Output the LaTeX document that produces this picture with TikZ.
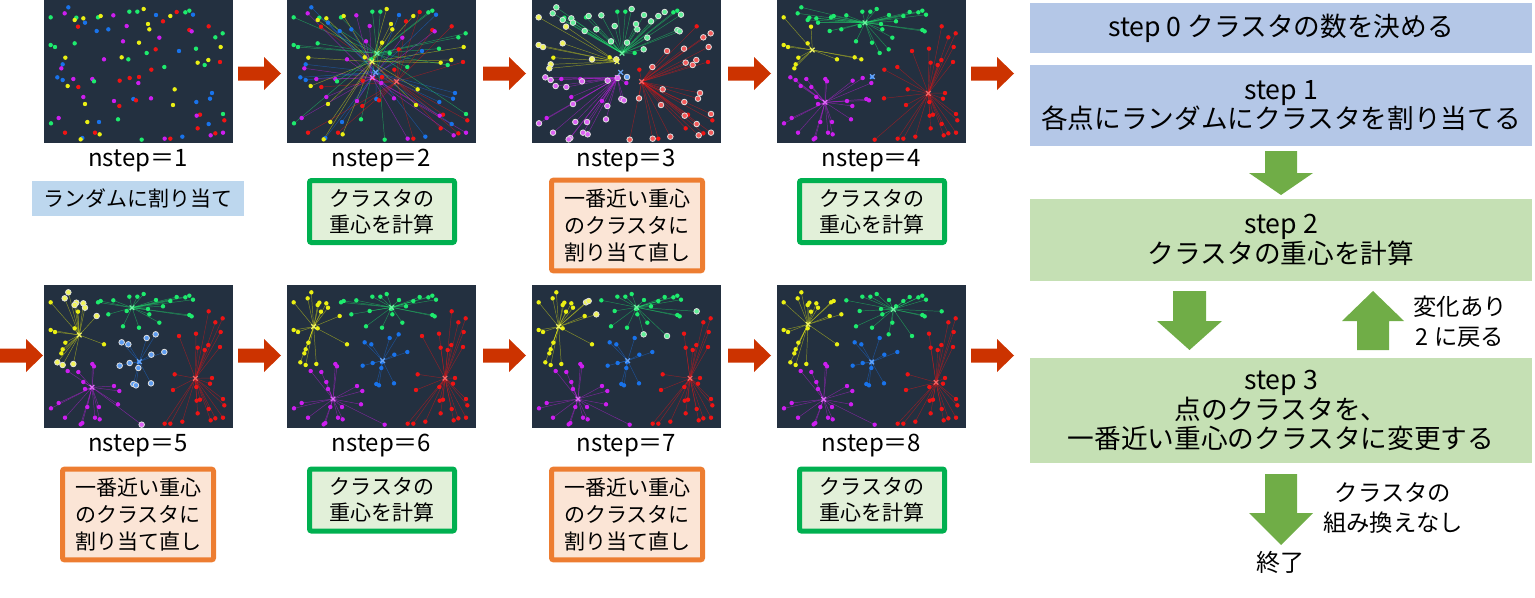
\documentclass[tikz,border=0pt]{standalone}
\usepackage{fontspec}
\setmainfont{Noto Sans CJK JP}
\definecolor{cG}{RGB}{30,235,110}
\definecolor{cY}{RGB}{235,240,20}
\definecolor{cB}{RGB}{25,115,235}
\definecolor{cM}{RGB}{205,30,240}
\definecolor{cR}{RGB}{240,20,20}
\definecolor{pbg}{RGB}{35,48,64}
\definecolor{redarrow}{RGB}{204,51,0}
\definecolor{grarrow}{RGB}{112,173,71}
\definecolor{bluebox}{RGB}{180,199,231}
\definecolor{greenbox}{RGB}{197,224,180}
\definecolor{lblue}{RGB}{189,215,238}
\definecolor{gborder}{RGB}{0,176,80}
\definecolor{gfill}{RGB}{226,240,217}
\definecolor{oborder}{RGB}{237,125,49}
\definecolor{ofill}{RGB}{251,229,214}

% points: x/y/random colour (1 G, 2 Y, 3 B, 4 M, 5 R), in 1/3 px of a panel
\newcommand\ptlist{20/52/1, 62/40/4, 73/22/3, 97/53/1, 92/60/2, 118/55/2, 123/68/3, 102/80/5, 162/52/1, 170/48/2,
158/93/3, 193/88/3, 20/135/1, 33/141/1, 92/130/1, 64/173/2, 56/193/3, 52/205/4, 40/232/3, 56/240/3,
88/237/4, 180/178/4, 208/46/4, 256/35/1, 280/35/1, 299/27/2, 336/45/3, 379/48/2, 398/36/5, 424/37/1,
436/32/1, 447/44/3, 357/64/5, 312/72/2, 316/88/2, 248/78/4, 237/124/4, 285/128/2, 346/113/4, 335/148/5,
405/153/3, 494/79/5, 436/90/5, 443/94/4, 233/172/2, 253/178/1, 308/159/1, 322/209/5, 361/201/1, 257/234/5,
227/242/5, 285/231/5, 283/249/4, 268/297/3, 276/301/5, 321/295/4, 536/100/1, 514/112/1, 530/141/2, 456/146/1,
461/188/2, 493/180/2, 482/195/1, 528/186/5, 392/268/2, 504/279/3, 498/296/3, 457/306/3, 387/315/2, 468/344/5,
458/347/4, 537/342/1, 541/361/5, 494/372/3, 461/385/5, 514/400/5, 500/406/4, 537/398/4, 415/410/3, 379/416/5,
362/416/4, 145/237/4, 150/244/1, 71/258/2, 103/261/5, 118/291/4, 123/312/2, 210/303/4, 226/318/5, 44/354/4,
21/370/1, 130/366/2, 165/366/3, 222/358/1, 63/398/5, 153/398/5, 167/403/2, 115/414/3, 110/418/2, 293/419/1}

\newcommand\setcent[4]{\expandafter\xdef\csname cx#1#2\endcsname{#3}\expandafter\xdef\csname cy#1#2\endcsname{#4}}
\newcommand\setcents[2]{\foreach \a/\b [count=\k] in {#2}{\setcent{#1}{\k}{\a}{\b}}}
\newcommand\colof[1]{\ifcase#1\or cG\or cY\or cB\or cM\or cR\fi}

\newcommand\nearest[3]{%
  \gdef\nbest{10000}\gdef\nidx{1}%
  \foreach \k in {1,...,5}{%
    \edef\tcx{\csname cx#3\k\endcsname}\edef\tcy{\csname cy#3\k\endcsname}%
    \pgfmathsetmacro\ddx{(#1-\tcx)/10}%
    \pgfmathsetmacro\ddy{(#2-\tcy)/10}%
    \pgfmathsetmacro\dd{(\ddx)*(\ddx)+(\ddy)*(\ddy)}%
    \ifdim\dd pt<\nbest pt \xdef\nbest{\dd}\xdef\nidx{\k}\fi
  }%
}

% #1 ox, #2 oy, #3 colour set, #4 centroid set for lines (N none), #5 previous set (N none)
\newcommand\panel[5]{%
  \begin{scope}[shift={(#1,#2)}]
    \fill[pbg] (0,0) rectangle (189,143);
    \begin{scope}
      \clip (0,0) rectangle (189,143);
      \if N#4\else
        \foreach \x/\y/\r [count=\i] in \ptlist {%
          \edef\ci{\csname as#3\i\endcsname}\edef\cc{\colof{\ci}}%
          \edef\tx{\csname cx#4\ci\endcsname}\edef\ty{\csname cy#4\ci\endcsname}%
          \draw[draw=\cc, line width=0.35pt, opacity=0.5] ({\x/3},{\y/3}) -- ({\tx/3},{\ty/3});
        }%
      \fi
      \foreach \x/\y/\r [count=\i] in \ptlist {%
        \edef\ci{\csname as#3\i\endcsname}\edef\cc{\colof{\ci}}%
        \def\outl{0}%
        \if N#5\else\edef\cp{\csname as#5\i\endcsname}\ifnum\ci=\cp\else\def\outl{1}\fi\fi
        \ifnum\outl=1
          \filldraw[fill=\cc!70!white, draw=white!75!gray, line width=0.6pt] ({\x/3},{\y/3}) circle[radius=2.1pt];
        \else
          \fill[fill=\cc] ({\x/3},{\y/3}) circle[radius=1.65pt];
        \fi
      }%
      \if N#4\else
        \foreach \k/\cn in {1/cG,2/cY,3/cB,4/cM,5/cR}{%
          \edef\tx{\csname cx#4\k\endcsname}\edef\ty{\csname cy#4\k\endcsname}%
          \draw[draw=\cn!65!white, line width=0.9pt]
            ({\tx/3-2.3},{\ty/3-2.3}) -- ({\tx/3+2.3},{\ty/3+2.3})
            ({\tx/3-2.3},{\ty/3+2.3}) -- ({\tx/3+2.3},{\ty/3-2.3});
        }%
      \fi
    \end{scope}
  \end{scope}}

\newcommand\redarr[2]{%
  \fill[redarrow] (#1,#2-7) -- (#1+26,#2-7) -- (#1+26,#2-16.5) -- (#1+43,#2)
    -- (#1+26,#2+16.5) -- (#1+26,#2+7) -- (#1,#2+7) -- cycle;}
\newcommand\grarr[6]{%
  \fill[grarrow] (#1-#5,#2) -- (#1+#5,#2) -- (#1+#5,#3) -- (#1+#6,#3) -- (#1,#4)
    -- (#1-#6,#3) -- (#1-#5,#3) -- cycle;}

\tikzset{
  flowbox/.style={inner sep=0pt, align=center, minimum width=376.5pt, font=\fontsize{20}{22}\selectfont},
  stepname/.style={anchor=base, font=\fontsize{18}{20}\selectfont},
  gbox/.style={draw=gborder, fill=gfill, line width=3.75pt, rounded corners=1.5pt, minimum width=108.75pt,
    minimum height=46.5pt, inner sep=0pt, align=center, font=\fontsize{15.75}{19.5}\selectfont},
  obox/.style={draw=oborder, fill=ofill, line width=3.75pt, rounded corners=1.5pt, minimum width=113.25pt,
    minimum height=68pt, inner sep=0pt, align=center, font=\fontsize{15.75}{20.25}\selectfont},
  sidetext/.style={align=center, inner sep=0pt, font=\fontsize{17.5}{22.5}\selectfont}
}

\begin{document}
\begin{tikzpicture}[x=0.75pt, y=-0.75pt]
\useasboundingbox (0,0) rectangle (1535,597);

\setcents{A}{270/160, 255/185, 266/217, 256/233, 329/245}
\setcents{B}{264/68, 106/150, 286/230, 144/307, 454/280}
\setcents{C}{314/67, 80/125, 287/227, 138/342, 474/280}
\setcents{D}{349/73, 93/118, 284/231, 140/343, 477/292}
\foreach \x/\y/\r [count=\i] in \ptlist {%
  \expandafter\xdef\csname asR\i\endcsname{\r}%
  \nearest{\x}{\y}{A}\expandafter\xdef\csname asA\i\endcsname{\nidx}%
  \nearest{\x}{\y}{B}\expandafter\xdef\csname asB\i\endcsname{\nidx}%
  \nearest{\x}{\y}{C}\expandafter\xdef\csname asC\i\endcsname{\nidx}%
}

% scatter panels
\panel{44}{0}{R}{N}{N}
\panel{287}{0}{R}{A}{N}
\panel{532}{0}{A}{A}{R}
\panel{777}{0}{A}{B}{N}
\panel{44}{285}{B}{B}{A}
\panel{287}{285}{B}{C}{N}
\panel{532}{285}{C}{C}{B}
\panel{777}{285}{C}{D}{N}

% red arrows
\redarr{238}{73.5}
\redarr{483}{73.5}
\redarr{728}{73.5}
\redarr{971}{73.5}
\redarr{0}{355.5}
\redarr{238}{355.5}
\redarr{483}{355.5}
\redarr{728}{355.5}
\redarr{971}{355.5}

% step labels
\node[stepname] (n1) at (138,166.5) {nstep＝1};
\node[stepname] (n2) at (381.5,166.5) {nstep＝2};
\node[stepname] (n3) at (626.5,166.5) {nstep＝3};
\node[stepname] (n4) at (871.5,166.5) {nstep＝4};
\node[stepname] (n5) at (138,451.5) {nstep＝5};
\node[stepname] (n6) at (381.5,451.5) {nstep＝6};
\node[stepname] (n7) at (626.5,451.5) {nstep＝7};
\node[stepname] (n8) at (871.5,451.5) {nstep＝8};

% action boxes
\node[fill=lblue, minimum width=159pt, minimum height=26.25pt, inner sep=0pt,
  font=\fontsize{15.75}{19.5}\selectfont] (b1) at (138,198.5) {ランダムに割り当て};
\node[gbox] (b2) at (382,211.5) {クラスタの\\重心を計算};
\node[obox] (b3) at (627,225.5) {一番近い重心\\のクラスタに\\割り当て直し};
\node[gbox] (b4) at (872,211.5) {クラスタの\\重心を計算};
\node[obox] (b5) at (138,514.5) {一番近い重心\\のクラスタに\\割り当て直し};
\node[gbox] (b6) at (382,500) {クラスタの\\重心を計算};
\node[obox] (b7) at (627,514.5) {一番近い重心\\のクラスタに\\割り当て直し};
\node[gbox] (b8) at (872,500) {クラスタの\\重心を計算};

% flow chart
\node[flowbox, fill=bluebox, minimum height=37.5pt] (s0) at (1281,28) {step 0 クラスタの数を決める};
\node[flowbox, fill=bluebox, minimum height=60.75pt] (s1) at (1281,105.5) {step 1\\各点にランダムにクラスタを割り当てる};
\node[flowbox, fill=greenbox, minimum height=61.5pt] (s2) at (1281,240) {step 2\\クラスタの重心を計算};
\node[flowbox, fill=greenbox, minimum height=78.75pt] (s3) at (1281,410.5) {step 3\\点のクラスタを、\\一番近い重心のクラスタに変更する};

\grarr{1281}{151}{173}{195}{16}{32}
\grarr{1189.5}{291}{321}{350}{16.5}{32.5}
\grarr{1373}{350}{321}{291}{16}{31}
\grarr{1281}{474}{513}{545}{16}{32}

\node[sidetext] (t1) at (1460,322) {変化あり\\2 に戻る};
\node[sidetext] (t2) at (1393,507.5) {クラスタの\\組み換えなし};
\node[sidetext, font=\fontsize{18}{22}\selectfont] (t3) at (1280,562) {終了};
\end{tikzpicture}
\end{document}
